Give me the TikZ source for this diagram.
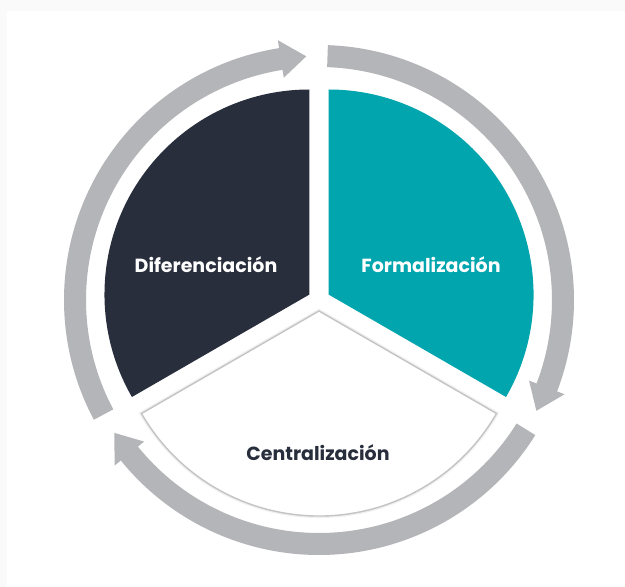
\documentclass[tikz,border=0pt]{standalone}
\usepackage{fontspec}
\setmainfont{Poppins}
\usetikzlibrary{calc}
\definecolor{navysec}{HTML}{282E3C}
\definecolor{tealsec}{HTML}{00A5AE}
\definecolor{ringgray}{HTML}{B4B5B8}
\definecolor{bordergray}{HTML}{C4C4C4}

\begin{document}
\begin{tikzpicture}[
  ring/.style={fill=ringgray},
  lbl/.style={font=\bfseries\fontsize{19}{22}\selectfont,text=white},
  darklbl/.style={lbl,text=navysec}
]
\useasboundingbox (0,0) rectangle (625pt,587pt);
\fill[gray!4] (0,0) rectangle (625pt,587pt);
\fill[white] (7pt,0) rectangle (625pt,576pt);

\begin{scope}[shift={(319pt,287pt)}]
% circular arrows
\foreach \k in {0,1,2} {
  \fill[ring,rotate=-120*\k]
    (88:255pt) arc[start angle=88,end angle=-21,radius=255pt]
    -- (-21:263pt) -- (-27:244pt) -- (-21:225pt)
    -- (-21:233pt) arc[start angle=-21,end angle=88,radius=233pt] -- cycle;
}
% sectors
\fill[navysec] (150:11pt) -- ++(90:205pt)
  arc[start angle=90,end angle=210,radius=205pt] -- cycle;
\fill[tealsec] (30:11pt) -- ++(-30:205pt)
  arc[start angle=-30,end angle=90,radius=205pt] -- cycle;
\draw[gray!12,line width=4pt] (270:11pt) -- ++(210:205pt)
  arc[start angle=210,end angle=330,radius=205pt] -- cycle;
\filldraw[fill=white,draw=bordergray,line width=1.4pt] (270:11pt) -- ++(210:205pt)
  arc[start angle=210,end angle=330,radius=205pt] -- cycle;
% labels
\node[lbl] (dif) at (-113pt,35pt) {Diferenciación};
\node[lbl] (form) at (112pt,35pt) {Formalización};
\node[darklbl] (cent) at (-1pt,-153pt) {Centralización};
\end{scope}
\end{tikzpicture}
\end{document}
